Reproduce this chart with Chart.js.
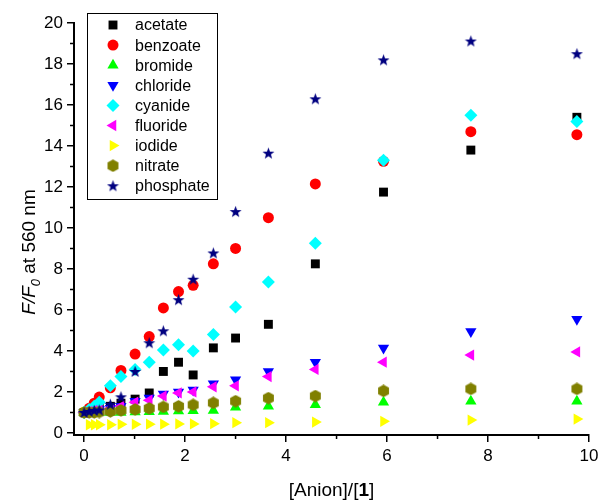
<!DOCTYPE html>
<html lang="en">
<head>
    <meta charset="UTF-8">
    <title>F/F0 vs [Anion]/[1]</title>
    <script src="https://cdn.jsdelivr.net/npm/chart.js"></script>
    <style>
        html, body {
            margin: 0;
            padding: 0;
            background: #fff;
        }

        .chart-container {
            position: relative;
            width: 603px;
            height: 504px;
        }
    </style>
</head>
<body>
    <div class="chart-container">
        <canvas id="chart"></canvas>
    </div>

    <script>
        // equivalents of anion added
        const equiv = [0, 0.1, 0.2, 0.3, 0.52, 0.73, 1.01, 1.29, 1.57, 1.87, 2.16, 2.56, 3.0, 3.65, 4.58, 5.93, 7.66, 9.76];

        const acetate   = [1, 1.05, 1.1, 1.2, 1.3, 1.45, 1.65, 1.95, 3.0, 3.45, 2.83, 4.15, 4.63, 5.3, 8.25, 11.75, 13.8, 15.4];
        const benzoate  = [1, 1.2, 1.45, 1.75, 2.2, 3.05, 3.85, 4.7, 6.1, 6.9, 7.2, 8.25, 9.0, 10.5, 12.15, 13.25, 14.7, 14.55];
        const bromide   = [1, 1.0, 1.0, 1.0, 1.0, 1.0, 1.02, 1.03, 1.05, 1.07, 1.08, 1.1, 1.25, 1.3, 1.37, 1.5, 1.55, 1.55];
        const chloride  = [1, 1.05, 1.1, 1.15, 1.2, 1.3, 1.55, 1.7, 1.9, 2.0, 2.1, 2.4, 2.6, 3.0, 3.45, 4.15, 4.95, 5.55];
        const cyanide   = [1, 1.15, 1.3, 1.5, 2.3, 2.75, 3.1, 3.45, 4.05, 4.3, 4.0, 4.8, 6.15, 7.37, 9.25, 13.3, 15.5, 15.2];
        const fluoride  = [1, 1.05, 1.1, 1.1, 1.2, 1.3, 1.5, 1.6, 1.8, 1.95, 2.0, 2.25, 2.3, 2.75, 3.1, 3.45, 3.8, 3.95];
        const iodide    = [1, 0.4, 0.4, 0.4, 0.4, 0.42, 0.42, 0.43, 0.43, 0.44, 0.44, 0.45, 0.5, 0.5, 0.53, 0.57, 0.63, 0.68];
        const nitrate   = [1, 1.0, 1.0, 1.02, 1.05, 1.1, 1.15, 1.2, 1.27, 1.3, 1.37, 1.47, 1.55, 1.7, 1.8, 2.05, 2.15, 2.15];
        const phosphate = [1, 1.05, 1.1, 1.12, 1.4, 1.76, 3.0, 4.4, 4.98, 6.5, 7.5, 8.78, 10.8, 13.65, 16.3, 18.2, 19.12, 18.5];

        const xTicks = [0, 2, 4, 6, 8, 10];
        const xMinor = [1, 3, 5, 7, 9];
        const yTicks = [0, 2, 4, 6, 8, 10, 12, 14, 16, 18, 20];
        const yMinor = [1, 3, 5, 7, 9, 11, 13, 15, 17, 19];

        // custom marker images for hexagon and filled star
        function makeMarker(color, kind) {
            const c = document.createElement("canvas");
            c.width = 13;
            c.height = 13;
            const g = c.getContext("2d");
            g.fillStyle = color;
            g.beginPath();
            const n = kind === "star" ? 10 : 6;
            for (let i = 0; i < n; i++) {
                const a = -Math.PI / 2 + i * 2 * Math.PI / n;
                let r = 6.3;
                if (kind === "star" && i % 2 === 1) r = 2.6;
                const px = 6.5 + r * Math.cos(a);
                const py = 6.5 + r * Math.sin(a) + (kind === "star" ? 0.5 : 0);
                if (i === 0) g.moveTo(px, py); else g.lineTo(px, py);
            }
            g.closePath();
            g.fill();
            return c;
        }

        const series = [
            { label: "acetate", data: acetate, color: "#000000", style: "rect", rotation: 0, radius: 6.3 },
            { label: "benzoate", data: benzoate, color: "#ff0000", style: "circle", rotation: 0, radius: 5.5 },
            { label: "bromide", data: bromide, color: "#00ff00", style: "triangle", rotation: 0, radius: 6.5 },
            { label: "chloride", data: chloride, color: "#0000ff", style: "triangle", rotation: 180, radius: 6.5 },
            { label: "cyanide", data: cyanide, color: "#00ffff", style: "rectRot", rotation: 0, radius: 6.5 },
            { label: "fluoride", data: fluoride, color: "#ff00ff", style: "triangle", rotation: -90, radius: 6.5 },
            { label: "iodide", data: iodide, color: "#ffff00", style: "triangle", rotation: 90, radius: 6.5 },
            { label: "nitrate", data: nitrate, color: "#808000", style: makeMarker("#808000", "hex"), rotation: 0, radius: 6 },
            { label: "phosphate", data: phosphate, color: "#000080", style: makeMarker("#000080", "star"), rotation: 0, radius: 6 },
        ];

        const datasets = series.map((s, i) => ({
            label: s.label,
            data: equiv.map((x, j) => ({ x: x, y: s.data[j] })),
            showLine: false,
            pointStyle: s.style,
            rotation: s.rotation,
            pointRadius: s.radius,
            pointHoverRadius: s.radius,
            pointBackgroundColor: s.color,
            pointBorderColor: s.color,
            pointBorderWidth: 0,
            backgroundColor: s.color,
            borderColor: s.color,
            order: -i,
        }));

        // minor ticks, axis titles and the boxed legend
        const extras = {
            id: "extras",
            afterDraw(chart) {
                const ctx = chart.ctx;
                const xs = chart.scales.x;
                const ys = chart.scales.y;
                const area = chart.chartArea;
                ctx.save();
                ctx.strokeStyle = "#000";
                ctx.lineWidth = 1.5;
                ctx.beginPath();
                xMinor.forEach((v) => {
                    const p = xs.getPixelForValue(v);
                    ctx.moveTo(p, area.bottom);
                    ctx.lineTo(p, area.bottom + 4);
                });
                yMinor.forEach((v) => {
                    const p = ys.getPixelForValue(v);
                    ctx.moveTo(area.left, p);
                    ctx.lineTo(area.left - 4, p);
                });
                ctx.stroke();

                // x title: [Anion]/[1] with bold 1
                ctx.fillStyle = "#000";
                ctx.textBaseline = "alphabetic";
                const fam = "Arial, 'Liberation Sans', sans-serif";
                const xParts = [
                    { t: "[Anion]/[", f: "19px " + fam },
                    { t: "1", f: "bold 19px " + fam },
                    { t: "]", f: "19px " + fam },
                ];
                let w = 0;
                xParts.forEach((p) => { ctx.font = p.f; w += ctx.measureText(p.t).width; });
                let cx = (area.left + area.right) / 2 - w / 2;
                xParts.forEach((p) => {
                    ctx.font = p.f;
                    ctx.fillText(p.t, cx, 496);
                    cx += ctx.measureText(p.t).width;
                });

                // y title: F/F0 at 560 nm
                ctx.translate(35, 252);
                ctx.rotate(-Math.PI / 2);
                const yParts = [
                    { t: "F/F", f: "italic 19px " + fam, dy: 0 },
                    { t: "0", f: "italic 13px " + fam, dy: 5 },
                    { t: " at 560 nm", f: "19px " + fam, dy: 0 },
                ];
                w = 0;
                yParts.forEach((p) => { ctx.font = p.f; w += ctx.measureText(p.t).width; });
                cx = -w / 2;
                yParts.forEach((p) => {
                    ctx.font = p.f;
                    ctx.fillText(p.t, cx, p.dy);
                    cx += ctx.measureText(p.t).width;
                });
                ctx.restore();

                // legend box
                ctx.save();
                ctx.fillStyle = "#fff";
                ctx.fillRect(87, 13, 130, 186);
                ctx.strokeStyle = "#000";
                ctx.lineWidth = 1;
                ctx.strokeRect(87.5, 13.5, 130, 186);
                ctx.font = "16px " + fam;
                ctx.textBaseline = "middle";
                chart.data.datasets.forEach((ds, i) => {
                    const y = 25 + i * 20.1;
                    ctx.fillStyle = ds.pointBackgroundColor;
                    Chart.helpers.drawPoint(ctx, {
                        pointStyle: ds.pointStyle,
                        rotation: ds.rotation,
                        radius: ds.pointRadius,
                        borderWidth: 0,
                    }, 113, y);
                    ctx.fillStyle = "#000";
                    ctx.fillText(ds.label, 135, y + 1);
                });
                ctx.restore();
            },
        };

        new Chart(document.getElementById("chart"), {
            type: "scatter",
            data: { datasets: datasets },
            options: {
                responsive: true,
                maintainAspectRatio: false,
                animation: false,
                layout: { padding: { top: 23, right: 14, left: 0, bottom: 0 } },
                plugins: {
                    legend: { display: false },
                    tooltip: { enabled: false },
                },
                scales: {
                    x: {
                        type: "linear",
                        min: -0.2,
                        max: 10,
                        afterBuildTicks: (s) => { s.ticks = xTicks.map((v) => ({ value: v })); },
                        afterFit: (s) => { s.height = 69; },
                        grid: { drawOnChartArea: false, drawTicks: true, tickLength: 7, color: "#000", lineWidth: 1.5 },
                        border: { display: true, color: "#000", width: 2 },
                        ticks: { color: "#000", font: { size: 17, family: "Arial, 'Liberation Sans', sans-serif" }, padding: 4, maxRotation: 0 },
                    },
                    y: {
                        type: "linear",
                        min: -0.1,
                        max: 20,
                        afterBuildTicks: (s) => { s.ticks = yTicks.map((v) => ({ value: v })); },
                        afterFit: (s) => { s.width = 74; },
                        grid: { drawOnChartArea: false, drawTicks: true, tickLength: 7, color: "#000", lineWidth: 1.5 },
                        border: { display: true, color: "#000", width: 2 },
                        ticks: { color: "#000", font: { size: 17, family: "Arial, 'Liberation Sans', sans-serif" }, padding: 4 },
                    },
                },
            },
            plugins: [extras],
        });
    </script>
</body>
</html>
